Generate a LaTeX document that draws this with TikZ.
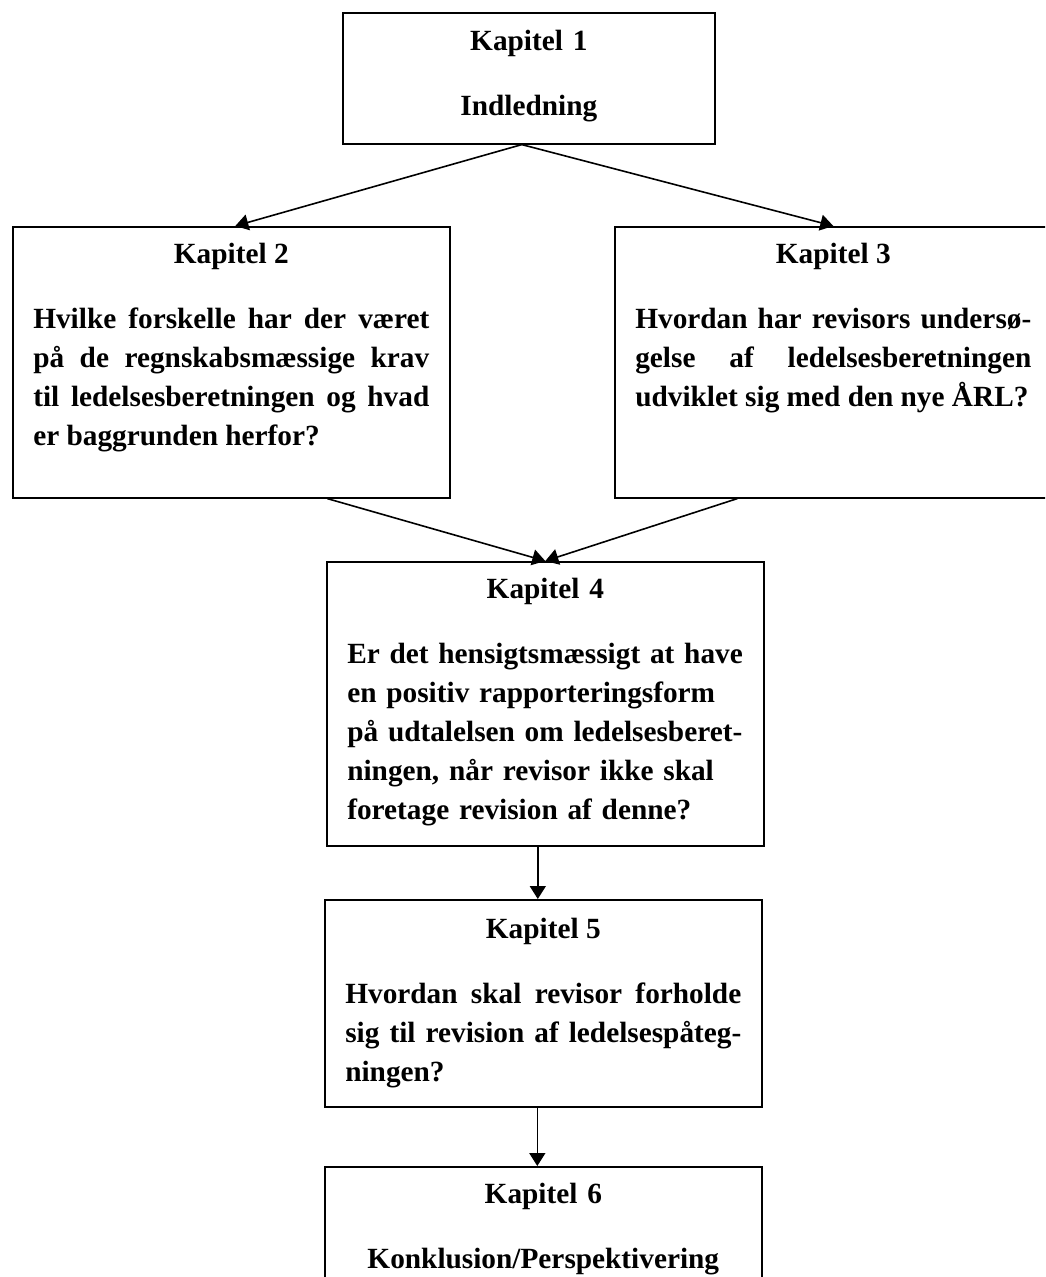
\documentclass[tikz,border=0pt]{standalone}
\usepackage{fontspec}
\setmainfont{Liberation Serif}
\usetikzlibrary{arrows.meta}
\usetikzlibrary{positioning}
\tolerance=10000
\hbadness=10000
\newcommand{\kaptitel}[1]{{\centering #1\par}\vspace{13pt}}
\tikzset{
	>={Triangle[length=6.5pt,width=8pt]},
	kapbox/.style={
		rectangle,
		draw=black, line width=0.8pt,
		anchor=north west,
		inner xsep=10.25pt, inner ysep=0pt,
		text width=198pt,
		text height=18.5pt,
		align=justify,
		font=\fontsize{14.65pt}{19.5pt}\selectfont\bfseries},
	pil/.style={draw, line width=0.8pt, ->},
}
\begin{document}
\begin{tikzpicture}
	[x=0.5pt,y=-0.5pt]
	\clip (0,0) rectangle (1045,1277);
	
	\node[kapbox, text width=166pt, inner xsep=10pt, text height=19pt, text depth=46.5pt, align=center] (kap1) at (342,12)
		{\kaptitel{Kapitel 1}Indledning};
	\node[kapbox, text depth=117pt] (kap2) at (12,226)
		{\kaptitel{Kapitel 2}Hvilke forskelle har der været\linebreak
		på de regnskabsmæssige krav\linebreak
		til ledelsesberetningen og hvad\linebreak
		er baggrunden herfor?};
	\node[kapbox, text depth=117pt] (kap3) at (614,226)
		{\kaptitel{Kapitel 3}Hvordan har revisors undersø-\linebreak
		gelse af ledelsesberetningen\linebreak
		udviklet sig med den nye ÅRL?};
	\node[kapbox, text depth=123.5pt, align=left] (kap4) at (326,561)
		{\kaptitel{Kapitel 4}Er det hensigtsmæssigt at have\\
		en positiv rapporteringsform\\
		på udtalelsen om ledelsesberet-\\
		ningen, når revisor ikke skal\\
		foretage revision af denne?};
	\node[kapbox, text height=19.5pt, text depth=84pt] (kap5) at (324,899)
		{\kaptitel{Kapitel 5}Hvordan skal revisor forholde\linebreak
		sig til revision af ledelsespåteg-\linebreak
		ningen?};
	\node[kapbox, text depth=47pt, align=center] (kap6) at (324,1166)
		{\kaptitel{Kapitel 6}Konklusion/Perspektivering};
	
	% forbindelser
	\path[pil] ([xshift=-3.5pt]kap1.south) -- ([xshift=2pt]kap2.north);
	\path[pil] ([xshift=-3.5pt]kap1.south) -- (kap3.north);
	\path[pil] ([xshift=48pt]kap2.south) -- (kap4.north);
	\path[pil] ([xshift=-48pt]kap3.south) -- (kap4.north);
	\path[pil] ([xshift=-3.75pt]kap4.south) -- ([xshift=-3.75pt]kap4.south |- kap5.north);
	\path[pil] ([xshift=-3pt]kap5.south) -- ([xshift=-3pt]kap5.south |- kap6.north);
	
\end{tikzpicture}
\end{document}
